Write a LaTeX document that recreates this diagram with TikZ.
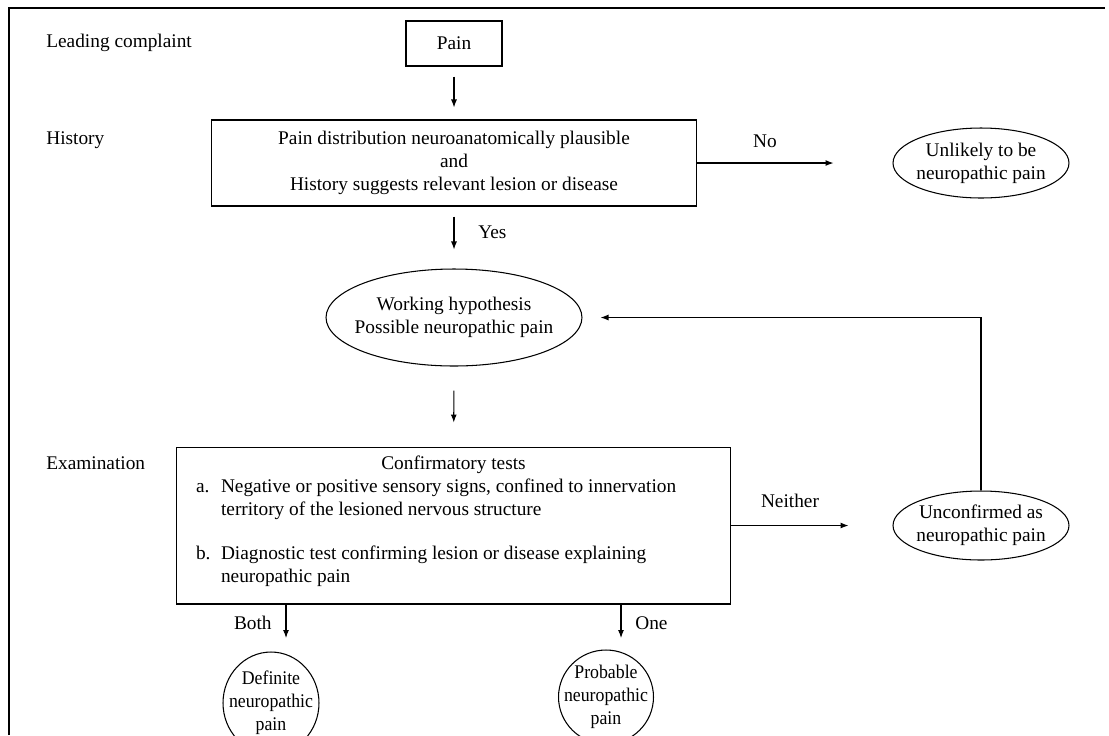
\documentclass[tikz,border=0pt]{standalone}
\usepackage{fontspec}
\setmainfont{Liberation Serif}
\newfontfamily\narrowserif{Liberation Serif}[FakeStretch=0.92]
\usetikzlibrary{arrows.meta,positioning,shapes.geometric}
\tikzset{
flowbox/.style={draw, line width=0.6pt, align=center, inner sep=0pt},
flowoval/.style={draw, ellipse, line width=0.6pt, align=center, inner xsep=-12pt, inner ysep=-4pt},
outcome/.style={flowoval, font=\narrowserif\fontsize{11pt}{13.1pt}\selectfont},
flowarrow/.style={->, line width=0.6pt},
flowlabel/.style={inner sep=0pt},
sidelabel/.style={anchor=west, inner sep=0pt}
}

\begin{document}
\begin{tikzpicture}[font=\fontsize{11pt}{13.1pt}\selectfont, >={Latex[length=1.6mm,width=1.2mm]}, x=0.02cm, y=-0.02cm]
  \useasboundingbox (0,0) rectangle (1109,735);
  % outer frame
  \draw[line width=0.7pt] (9,735) -- (9,8) -- (1105,8);
  % stage names
  \node[sidelabel] (lcomp) at (46,43) {Leading complaint};
  \node[sidelabel] (hist) at (46,140) {History};
  \node[sidelabel] (exam) at (46,463) {Examination};
  % main column
  \node[flowbox, minimum width=1.92cm, minimum height=0.9cm] (pain) at (454,43.5) {Pain};
  \node[flowbox, minimum width=9.72cm, minimum height=1.72cm] (plaus) at (454,163) {Pain distribution neuroanatomically plausible\\and\\History suggests relevant lesion or disease};
  \node[flowoval, minimum width=3.52cm, minimum height=1.4cm] (unlikely) at (981,163) {Unlikely to be\\neuropathic pain};
  \node[flowoval, minimum width=5.12cm, minimum height=1.94cm] (working) at (454,317.5) {Working hypothesis\\Possible neuropathic pain};
  \node[flowbox, minimum width=11.1cm, minimum height=3.14cm] (tests) at (453.5,525.5) {\parbox{10.5cm}{%
    {\centering Confirmatory tests\par}
    \raggedright\leftskip=0.1cm
    \hangindent=0.5cm\hangafter=1\noindent\makebox[0.5cm][l]{a.}Negative or positive sensory signs, confined to innervation\newline territory of the lesioned nervous structure\par
    \vspace{0.42cm}
    \hangindent=0.5cm\hangafter=1\noindent\makebox[0.5cm][l]{b.}Diagnostic test confirming lesion or disease explaining\newline neuropathic pain\par
    \vspace{0.18cm}\hrule height 0pt}};
  \node[flowoval, minimum width=3.52cm, minimum height=1.38cm] (unconf) at (981,525.5) {Unconfirmed as\\neuropathic pain};
  % outcomes
  \node[outcome, minimum width=1.92cm, minimum height=2.04cm] (definite) at (271,703) {Definite\\neuropathic\\pain};
  \node[outcome, minimum width=1.9cm, minimum height=1.88cm] (probable) at (606,697) {Probable\\neuropathic\\pain};
  \coordinate (bothend) at (286,638);
  \coordinate (oneend) at (621,638);
  % connectors
  \draw[flowarrow, shorten <=0.2cm, shorten >=0.24cm] (pain) -- (plaus);
  \draw[flowarrow, shorten >=1.18cm] (plaus) -- (unlikely);
  \node[flowlabel] (no) at (765,141) {No};
  \draw[flowarrow, shorten <=0.2cm, shorten >=0.38cm] (plaus) -- (working);
  \node[flowlabel, anchor=west] (yes) at (478,232) {Yes};
  \draw[flowarrow, shorten <=0.48cm, shorten >=0.48cm] (working) -- (tests);
  \draw[flowarrow, shorten >=0.88cm] (tests) -- (unconf);
  \node[flowlabel] (neither) at (790,501) {Neither};
  \draw[flowarrow, shorten >=0.36cm] (unconf) |- (working);
  \draw[flowarrow] (tests.south -| bothend) -- (bothend);
  \node[flowlabel, anchor=east] (both) at (272,623) {Both};
  \draw[flowarrow] (tests.south -| oneend) -- (oneend);
  \node[flowlabel, anchor=west] (one) at (635,623) {One};
\end{tikzpicture}
\end{document}
